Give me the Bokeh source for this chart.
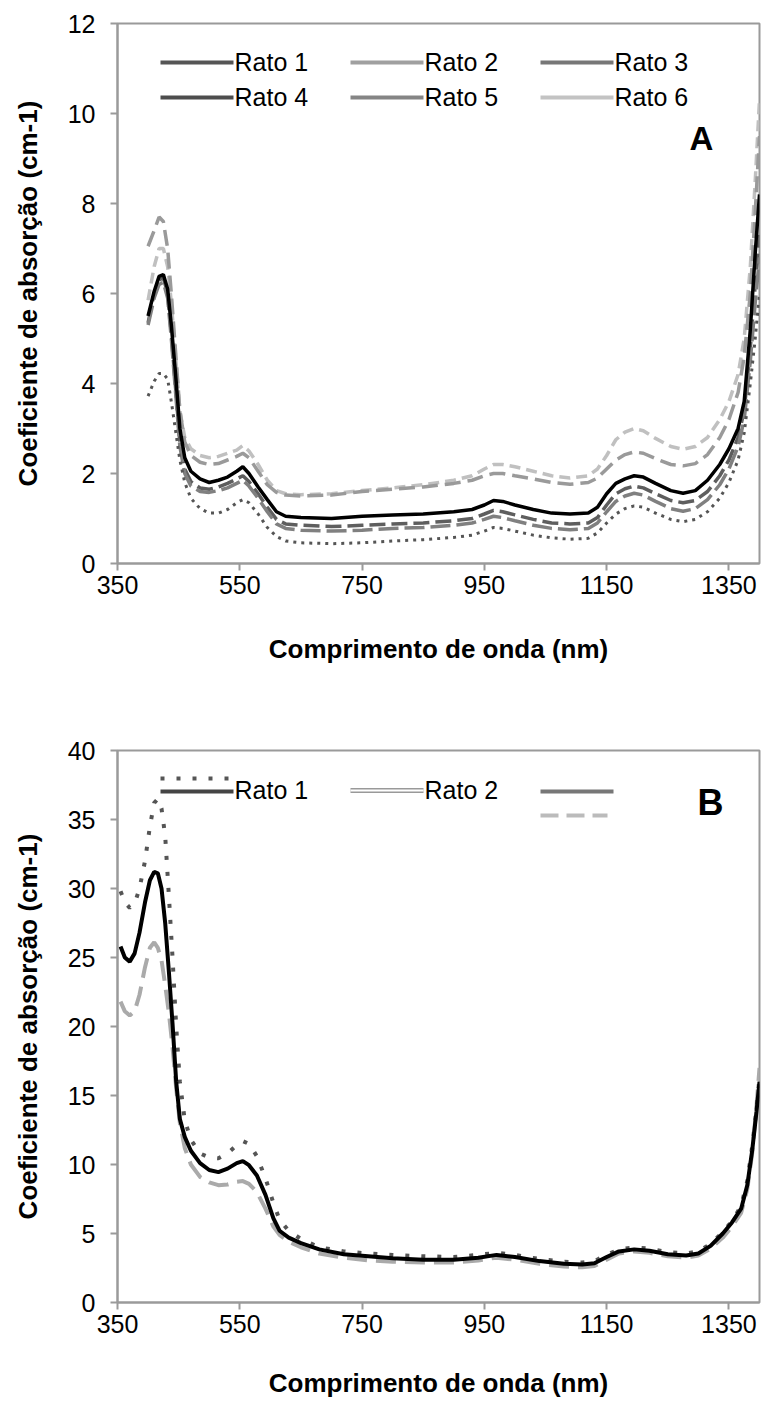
from bokeh.plotting import figure
from bokeh.models import Range1d, FixedTicker, Label
from bokeh.layouts import column
from bokeh.embed import file_html
from bokeh.resources import INLINE

# ---------------- DATA : panel A ----------------
wl_a = [400, 410, 418, 425, 432, 438, 445, 452, 460, 470, 485, 500, 515, 530, 545, 555, 565,
        580, 595, 610, 625, 650, 700, 750, 800, 850, 900, 930, 950, 965, 980, 1000, 1030,
        1060, 1090, 1120, 1135, 1150, 1165, 1180, 1195, 1210, 1230, 1255, 1275, 1295, 1315,
        1335, 1350, 1365, 1375, 1385, 1393, 1400]

rato1_a = [3.72, 4.05, 4.22, 4.22, 4.1, 3.6, 2.95, 2.3, 1.8, 1.45, 1.22, 1.12, 1.12, 1.2, 1.35,
           1.42, 1.35, 1.1, 0.8, 0.6, 0.5, 0.46, 0.44, 0.46, 0.5, 0.53, 0.58, 0.63, 0.72, 0.8,
           0.78, 0.72, 0.63, 0.57, 0.54, 0.56, 0.68, 0.9, 1.1, 1.22, 1.28, 1.25, 1.12, 0.98,
           0.93, 0.98, 1.15, 1.45, 1.8, 2.3, 2.9, 4.0, 5.0, 6.0]
rato2_a = [7.05, 7.4, 7.7, 7.6, 7.0, 6.0, 4.7, 3.4, 2.7, 2.4, 2.25, 2.2, 2.22, 2.3, 2.38, 2.45,
           2.35, 2.05, 1.75, 1.58, 1.52, 1.5, 1.52, 1.6, 1.65, 1.7, 1.78, 1.85, 1.95, 2.0, 2.0,
           1.95, 1.88, 1.8, 1.76, 1.8, 1.9, 2.1, 2.3, 2.42, 2.48, 2.45, 2.33, 2.2, 2.17, 2.22,
           2.42, 2.8, 3.2, 3.8, 4.6, 6.0, 7.8, 9.5]
rato3_a = [5.35, 6.0, 6.3, 6.35, 6.0, 5.1, 3.9, 2.7, 2.1, 1.82, 1.68, 1.65, 1.7, 1.78, 1.88, 1.95,
           1.82, 1.55, 1.25, 0.98, 0.88, 0.85, 0.82, 0.85, 0.88, 0.9, 0.95, 1.0, 1.1, 1.18, 1.15,
           1.08, 0.98, 0.9, 0.88, 0.9, 1.02, 1.3, 1.55, 1.66, 1.72, 1.68, 1.55, 1.4, 1.35, 1.4,
           1.6, 1.95, 2.3, 2.8, 3.4, 4.8, 6.2, 7.3]
rato4_a = [5.5, 6.05, 6.38, 6.42, 6.1, 5.3, 4.2, 3.0, 2.35, 2.05, 1.88, 1.8, 1.85, 1.92, 2.05,
           2.15, 2.0, 1.7, 1.42, 1.15, 1.05, 1.02, 1.0, 1.05, 1.08, 1.1, 1.15, 1.2, 1.3, 1.4,
           1.38, 1.3, 1.2, 1.12, 1.1, 1.12, 1.25, 1.55, 1.78, 1.88, 1.95, 1.92, 1.78, 1.62,
           1.56, 1.62, 1.85, 2.2, 2.55, 3.0, 3.6, 5.2, 6.9, 8.2]
rato5_a = [5.3, 5.9, 6.2, 6.25, 5.9, 5.0, 3.8, 2.6, 2.0, 1.72, 1.6, 1.58, 1.62, 1.68, 1.78, 1.85,
           1.72, 1.45, 1.15, 0.88, 0.78, 0.74, 0.72, 0.74, 0.78, 0.8, 0.85, 0.9, 0.98, 1.05,
           1.02, 0.95, 0.85, 0.78, 0.75, 0.78, 0.9, 1.15, 1.38, 1.5, 1.56, 1.52, 1.38, 1.22,
           1.16, 1.22, 1.42, 1.75, 2.1, 2.6, 3.2, 4.5, 5.8, 6.8]
rato6_a = [5.85, 6.6, 7.0, 7.0, 6.6, 5.8, 4.6, 3.4, 2.8, 2.55, 2.4, 2.35, 2.38, 2.45, 2.52, 2.62,
           2.5, 2.2, 1.85, 1.62, 1.55, 1.53, 1.55, 1.62, 1.68, 1.75, 1.85, 1.95, 2.1, 2.2, 2.2,
           2.15, 2.05, 1.95, 1.9, 1.95, 2.1, 2.4, 2.75, 2.92, 3.0, 2.95, 2.78, 2.6, 2.54, 2.6,
           2.8, 3.2, 3.6, 4.2, 5.0, 6.6, 8.5, 10.3]

# ---------------- DATA : panel B ----------------
wl_b = [355, 362, 370, 378, 386, 395, 403, 410, 416, 422, 428, 434, 440, 446, 452, 460, 470,
        485, 500, 515, 530, 545, 555, 565, 578, 592, 605, 615, 630, 650, 680, 720, 760, 800,
        850, 900, 940, 970, 1000, 1040, 1080, 1110, 1130, 1150, 1170, 1195, 1220, 1250, 1280,
        1300, 1320, 1340, 1355, 1370, 1380, 1388, 1395, 1400]

solid_b = [25.8, 25.0, 24.7, 25.3, 26.8, 29.0, 30.6, 31.2, 31.1, 30.0, 27.5, 24.0, 20.2, 16.0,
           13.3, 12.0, 11.0, 10.1, 9.6, 9.45, 9.7, 10.1, 10.25, 9.95, 9.2, 7.8, 6.1, 5.2, 4.7,
           4.3, 3.85, 3.5, 3.35, 3.2, 3.1, 3.1, 3.25, 3.45, 3.3, 3.0, 2.8, 2.75, 2.85, 3.3,
           3.7, 3.85, 3.75, 3.5, 3.4, 3.55, 4.1, 5.0, 5.8, 6.8, 8.5, 11.0, 13.8, 16.0]
dotted_b = [29.8, 29.0, 28.6, 28.9, 30.0, 32.0, 34.5, 36.2, 36.5, 35.8, 33.8, 29.5, 25.0, 20.0,
            16.0, 13.2, 11.8, 10.8, 10.5, 10.45, 10.8, 11.4, 11.7, 11.5, 10.6, 9.0, 7.2, 6.0,
            5.2, 4.6, 4.0, 3.7, 3.55, 3.45, 3.35, 3.3, 3.45, 3.6, 3.45, 3.15, 2.95, 2.9, 3.0,
            3.45, 3.85, 4.0, 3.9, 3.65, 3.55, 3.7, 4.25, 5.1, 5.9, 7.0, 8.8, 11.3, 14.0, 16.3]
dashed_b = [21.8, 21.1, 20.8, 21.1, 22.3, 24.3, 25.7, 26.1, 25.7, 24.8, 23.0, 21.0, 18.5, 15.5,
            13.0, 11.2, 10.0, 9.1, 8.7, 8.5, 8.55, 8.75, 8.8, 8.6, 8.0, 6.8, 5.5, 4.9, 4.4,
            4.0, 3.55, 3.25, 3.05, 2.95, 2.9, 2.9, 3.05, 3.25, 3.1, 2.8, 2.6, 2.55, 2.65, 3.1,
            3.55, 3.7, 3.6, 3.35, 3.25, 3.4, 3.9, 4.7, 5.5, 6.5, 8.2, 10.8, 14.2, 17.0]

x_ticks = [350, 550, 750, 950, 1150, 1350]
y_ticks_a = [0, 2, 4, 6, 8, 10, 12]
y_ticks_b = [0, 5, 10, 15, 20, 25, 30, 35, 40]
legend_a = ["Rato 1", "Rato 2", "Rato 3", "Rato 4", "Rato 5", "Rato 6"]
legend_a_colors = ["#555555", "#a0a0a0", "#777777", "#4d4d4d", "#858585", "#c3c3c3"]
legend_b = ["Rato 1", "Rato 2"]

FONT = "Liberation Sans"
AXIS = "#9a9a9a"
X_TITLE = "Comprimento de onda (nm)"
Y_TITLE = "Coeficiente de absorção (cm-1)"

# layout constants (pixels)
W = 761
LEFT, RIGHT = 117, 2
FRAME_W = W - LEFT - RIGHT
LEG_X0 = 43          # first legend swatch start, px from frame left
LEG_COL = 190        # column step
LEG_LEN = 73         # swatch length


def make_fig(height, top, bottom, ymax, yticks, x_st, x_title_st):
    p = figure(width=W, height=height, x_range=Range1d(350, 1400), y_range=Range1d(0, ymax),
               output_backend="svg", toolbar_location=None,
               min_border_left=LEFT, min_border_right=RIGHT,
               min_border_top=top, min_border_bottom=bottom)
    fh = height - top - bottom
    p.extra_x_ranges = {"px": Range1d(0, FRAME_W)}
    p.extra_y_ranges = {"px": Range1d(fh, 0)}
    p.xgrid.visible = False
    p.ygrid.visible = False
    p.outline_line_color = AXIS
    p.outline_line_width = 2
    p.background_fill_color = "white"
    p.border_fill_color = "white"
    p.xaxis.ticker = FixedTicker(ticks=x_ticks)
    p.yaxis.ticker = FixedTicker(ticks=yticks)
    for ax in (p.xaxis[0], p.yaxis[0]):
        ax.axis_line_color = AXIS
        ax.axis_line_width = 2
        ax.major_tick_line_color = AXIS
        ax.major_tick_line_width = 2
        ax.major_tick_in = 0
        ax.major_tick_out = 7
        ax.minor_tick_line_color = None
        ax.major_label_text_font = FONT
        ax.major_label_text_font_size = "25px"
        ax.major_label_text_color = "black"
        ax.axis_label_text_font = FONT
        ax.axis_label_text_font_size = "26px"
        ax.axis_label_text_font_style = "bold"
        ax.axis_label_text_color = "black"
    p.xaxis.axis_label = X_TITLE
    p.yaxis.axis_label = Y_TITLE
    p.xaxis.major_label_standoff = x_st
    p.xaxis.axis_label_standoff = x_title_st
    p.yaxis.major_label_standoff = 15
    p.yaxis.axis_label_standoff = 22
    return p


def px_line(p, x0, y, length, **kw):
    p.line([x0, x0 + length], [y, y], x_range_name="px", y_range_name="px", **kw)


def px_label(p, x, y, text, **kw):
    p.add_layout(Label(x=x, y=y, text=text, x_range_name="px", y_range_name="px",
                       text_font=FONT, text_color="black", **kw))


# ---------------- Panel A ----------------
pA = make_fig(700, 23, 137, 12, y_ticks_a, 5, 37)
pA.line(wl_a, rato6_a, line_color="#c0c0c0", line_width=3.5, line_dash="11 6")
pA.line(wl_a, rato2_a, line_color="#9a9a9a", line_width=3.5, line_dash="16 7")
pA.line(wl_a, rato3_a, line_color="#5e5e5e", line_width=3.5, line_dash="16 6")
pA.line(wl_a, rato5_a, line_color="#808080", line_width=3.5, line_dash="20 6")
pA.line(wl_a, rato1_a, line_color="#555555", line_width=3, line_dash="3 5")
pA.line(wl_a, rato4_a, line_color="black", line_width=3.5)

ROWS_A = [39, 74]
for i, (name, col) in enumerate(zip(legend_a, legend_a_colors)):
    r, c = divmod(i, 3)
    x0 = LEG_X0 + c * LEG_COL
    px_line(pA, x0, ROWS_A[r], LEG_LEN, line_color=col, line_width=4)
    px_label(pA, x0 + LEG_LEN + 1, ROWS_A[r] - 1, name, text_font_size="25px",
             text_baseline="alphabetic")
px_label(pA, 584, 115, "A", text_font_size="33px", text_font_style="bold",
         text_align="center", text_baseline="middle")

# ---------------- Panel B ----------------
pB = make_fig(703, 50, 101, 40, y_ticks_b, 5, 32)
pB.line(wl_b, dashed_b, line_color="#aaaaaa", line_width=4, line_dash="20 9")
pB.line(wl_b, dotted_b, line_color="#555555", line_width=4, line_dash="4 12")
pB.line(wl_b, solid_b, line_color="black", line_width=4)

# legend B (as in the original figure)
px_line(pB, LEG_X0, 28, LEG_LEN, line_color="#555555", line_width=4, line_dash="4 12")
px_line(pB, LEG_X0, 41, LEG_LEN, line_color="#444444", line_width=4)
px_label(pB, LEG_X0 + LEG_LEN + 1, 39, legend_b[0], text_font_size="25px",
         text_baseline="alphabetic")
px_line(pB, LEG_X0 + LEG_COL, 40, LEG_LEN, line_color="#999999", line_width=5)
px_line(pB, LEG_X0 + LEG_COL, 40, LEG_LEN, line_color="white", line_width=2)
px_label(pB, LEG_X0 + LEG_COL + LEG_LEN + 1, 39, legend_b[1], text_font_size="25px",
         text_baseline="alphabetic")
px_line(pB, LEG_X0 + 2 * LEG_COL, 41, LEG_LEN, line_color="#777777", line_width=4)
px_line(pB, LEG_X0 + 2 * LEG_COL, 65, LEG_LEN - 6, line_color="#bbbbbb", line_width=4,
        line_dash="18 8")
px_label(pB, 593, 52, "B", text_font_size="36px", text_font_style="bold",
         text_align="center", text_baseline="middle")

layout = column(pA, pB)
open("out.html", "w").write(file_html(layout, INLINE))
